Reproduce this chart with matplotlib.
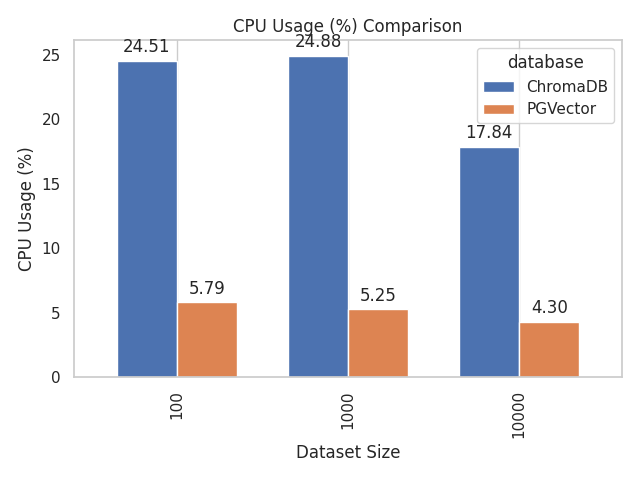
import matplotlib
matplotlib.use("Agg")
import matplotlib.pyplot as plt
import pandas as pd
import seaborn as sns

sns.set_theme(style="whitegrid")

sizes = [100, 1000, 10000]
chromadb = [24.51, 24.88, 17.84]
pgvector = [5.79, 5.25, 4.30]

df = pd.DataFrame({"ChromaDB": chromadb, "PGVector": pgvector}, index=sizes)
df.index.name = "Dataset Size"
df.columns.name = "database"

fig, ax = plt.subplots(figsize=(6.4, 4.8), dpi=100)
df.plot(kind="bar", ax=ax, width=0.7)

for p in ax.patches:
    ax.annotate(f"{p.get_height():.2f}",
                (p.get_x() + p.get_width() / 2, p.get_height()),
                ha="center", va="center",
                xytext=(0, 10), textcoords="offset points")

ax.grid(axis="y", visible=False)
ax.set_title("CPU Usage (%) Comparison")
ax.set_xlabel("Dataset Size")
ax.set_ylabel("CPU Usage (%)")
plt.tight_layout()
plt.savefig("out.png")
